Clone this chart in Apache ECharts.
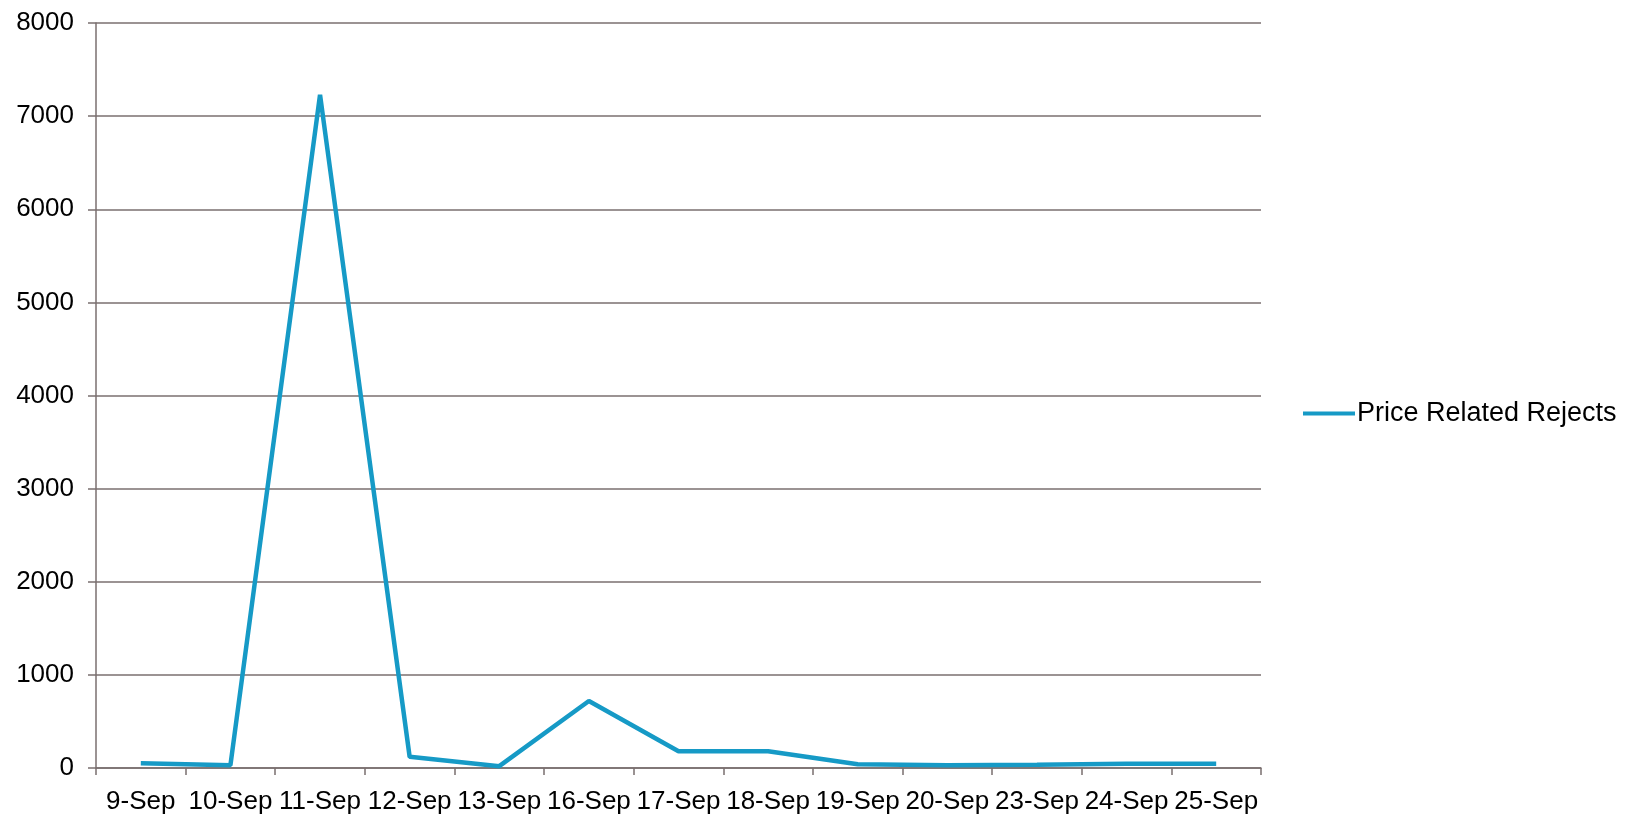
<!DOCTYPE html>
<html>
<head>
<meta charset="utf-8">
<script src="https://cdn.jsdelivr.net/npm/echarts@6/dist/echarts.min.js"></script>
<style>html,body{margin:0;padding:0;background:#fff;}#c{width:1629px;height:815px;}</style>
</head>
<body>
<div id="c"></div>
<script>
const categories = ['9-Sep','10-Sep','11-Sep','12-Sep','13-Sep','16-Sep','17-Sep','18-Sep','19-Sep','20-Sep','23-Sep','24-Sep','25-Sep'];
const seriesName = 'Price Related Rejects';
const values = [50, 30, 7230, 120, 20, 720, 180, 180, 40, 30, 35, 45, 45];
const yTicks = [0, 1000, 2000, 3000, 4000, 5000, 6000, 7000, 8000];

const chart = echarts.init(document.getElementById('c'), null, {renderer: 'canvas'});
const axisColor = '#7a6f6f';
const fontFam = '"Liberation Sans", Arial, sans-serif';
chart.setOption({
  animation: false,
  backgroundColor: '#ffffff',
  grid: {left: 96, right: 368, top: 23, bottom: 46, containLabel: false},
  legend: {
    data: [seriesName],
    orient: 'vertical',
    left: 1298,
    top: 395,
    itemWidth: 52,
    itemHeight: 4,
    itemGap: 2,
    icon: 'rect',
    textStyle: {fontFamily: fontFam, fontSize: 27, color: '#000', padding: [0,0,0,-3]}
  },
  xAxis: {
    type: 'category',
    data: categories,
    boundaryGap: true,
    axisLine: {lineStyle: {color: axisColor, width: 1.5}},
    axisTick: {show: true, length: 7, lineStyle: {color: axisColor, width: 1.5}},
    axisLabel: {fontFamily: fontFam, fontSize: 26, color: '#000', margin: 21, interval: 0}
  },
  yAxis: {
    type: 'value',
    min: yTicks[0],
    max: yTicks[yTicks.length - 1],
    interval: 1000,
    axisLine: {show: true, lineStyle: {color: axisColor, width: 1.5}},
    axisTick: {show: true, length: 8, lineStyle: {color: axisColor, width: 1.5}},
    axisLabel: {fontFamily: fontFam, fontSize: 26, color: '#000', margin: 22, formatter: v => String(v)},
    splitLine: {lineStyle: {color: axisColor, width: 1.5}}
  },
  series: [{
    name: seriesName,
    type: 'line',
    data: values,
    symbol: 'none',
    lineStyle: {color: '#169ac6', width: 4.5},
    itemStyle: {color: '#169ac6'}
  }]
});
</script>
</body>
</html>
